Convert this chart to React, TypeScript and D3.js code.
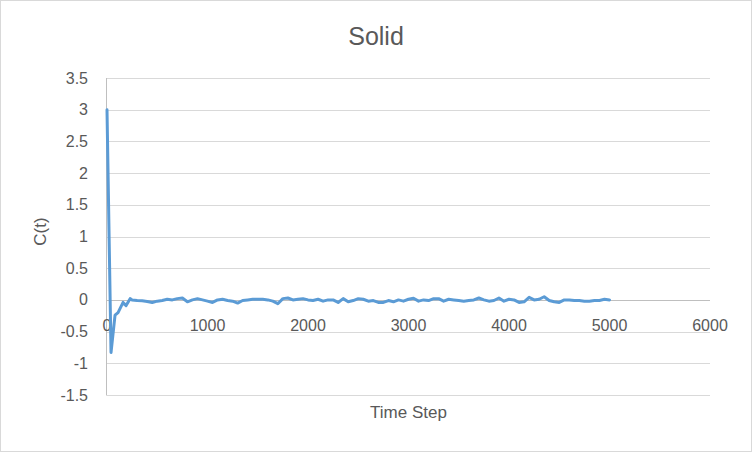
import * as d3 from "d3";

// time steps and correlation values
const timeSteps = [
  0, 40, 80, 110, 160, 190, 230,
  250, 300, 350, 400, 450, 500, 550, 600, 650, 700, 750, 800, 850, 900, 950,
  1000, 1050, 1100, 1150, 1200, 1250, 1300, 1350, 1400, 1450, 1500, 1550, 1600, 1650, 1700, 1750, 1800, 1850, 1900, 1950,
  2000, 2050, 2100, 2150, 2200, 2250, 2300, 2350, 2400, 2450, 2500, 2550, 2600, 2650, 2700, 2750, 2800, 2850, 2900, 2950,
  3000, 3050, 3100, 3150, 3200, 3250, 3300, 3350, 3400, 3450, 3500, 3550, 3600, 3650, 3700, 3750, 3800, 3850, 3900, 3950,
  4000, 4050, 4100, 4150, 4200, 4250, 4300, 4350, 4400, 4450, 4500, 4550, 4600, 4650, 4700, 4750, 4800, 4850, 4900, 4950,
  5000,
];
const cValues = [
  3.0, -0.83, -0.24, -0.2, -0.04, -0.09, 0.02,
  0.0, -0.01, -0.015, -0.025, -0.04, -0.02, -0.01, 0.01, 0.0, 0.02, 0.03, -0.03, 0.0, 0.02, 0.0,
  -0.02, -0.04, 0.0, 0.01, -0.01, -0.02, -0.05, -0.01, 0.0, 0.01, 0.01, 0.01, 0.0, -0.02, -0.06, 0.02, 0.03, 0.0, 0.01, 0.02,
  0.0, -0.01, 0.01, -0.02, 0.0, 0.0, -0.04, 0.02, -0.03, -0.01, 0.02, 0.01, -0.02, -0.01, -0.04, -0.04, -0.01, -0.03, 0.0, -0.02,
  0.01, 0.025, -0.02, 0.0, -0.01, 0.02, 0.02, -0.02, 0.01, 0.0, -0.01, -0.02, -0.01, 0.0, 0.03, 0.0, -0.02, -0.01, 0.03, -0.02,
  0.01, 0.0, -0.04, -0.03, 0.04, 0.0, 0.01, 0.05, -0.01, -0.03, -0.04, 0.0, 0.0, -0.01, -0.01, -0.02, -0.02, -0.01, -0.01, 0.01,
  0.0,
];
const xTicks = [0, 1000, 2000, 3000, 4000, 5000, 6000];
const yTicks = [-1.5, -1, -0.5, 0, 0.5, 1, 1.5, 2, 2.5, 3, 3.5];

const W = 752, H = 452;
const plot = { left: 107, right: 710, top: 78, bottom: 395 };
const font = "'Liberation Sans', Arial, sans-serif";
const textColor = "#595959";

export default function App() {
  const x = d3.scaleLinear().domain([0, 6000]).range([plot.left, plot.right]);
  const y = d3.scaleLinear().domain([-1.5, 3.5]).range([plot.bottom, plot.top]);
  const pts = timeSteps.map((t, i) => [t, cValues[i]] as [number, number]);
  const path = d3.line<[number, number]>().x((d) => x(d[0])).y((d) => y(d[1]))(pts) ?? "";

  return (
    <svg width={W} height={H} style={{ position: "absolute", left: 0, top: 0 }} fontFamily={font}>
      <rect x={0} y={0} width={W} height={H} fill="#fff" />
      <rect x={0.5} y={0.5} width={W - 1} height={H - 1} fill="none" stroke="#d9d9d9" />
      <text x={W / 2} y={45} textAnchor="middle" fontSize={25} fill={textColor}>Solid</text>

      {yTicks.map((t) => (
        <line key={`g${t}`} x1={plot.left} x2={plot.right} y1={Math.round(y(t)) + 0.5} y2={Math.round(y(t)) + 0.5}
          stroke={t === 0 ? "#bfbfbf" : "#d9d9d9"} />
      ))}
      <line x1={plot.left - 0.5} x2={plot.left - 0.5} y1={plot.top} y2={plot.bottom + 0.5} stroke="#bfbfbf" />

      {yTicks.map((t) => (
        <text key={`y${t}`} x={88} y={y(t) + 5.5} textAnchor="end" fontSize={16} fill={textColor}>{t}</text>
      ))}
      {xTicks.map((t) => (
        <text key={`x${t}`} x={x(t)} y={y(0) + 31} textAnchor="middle" fontSize={16} fill={textColor}>{t}</text>
      ))}

      <text transform={`translate(46,${(plot.top + plot.bottom) / 2 - 5}) rotate(-90)`} textAnchor="middle" fontSize={17} fill={textColor}>C(t)</text>
      <text x={(plot.left + plot.right) / 2} y={418} textAnchor="middle" fontSize={17} fill={textColor}>Time Step</text>

      <path d={path} fill="none" stroke="#5b9bd5" strokeWidth={3} strokeLinejoin="round" strokeLinecap="round" />
    </svg>
  );
}
